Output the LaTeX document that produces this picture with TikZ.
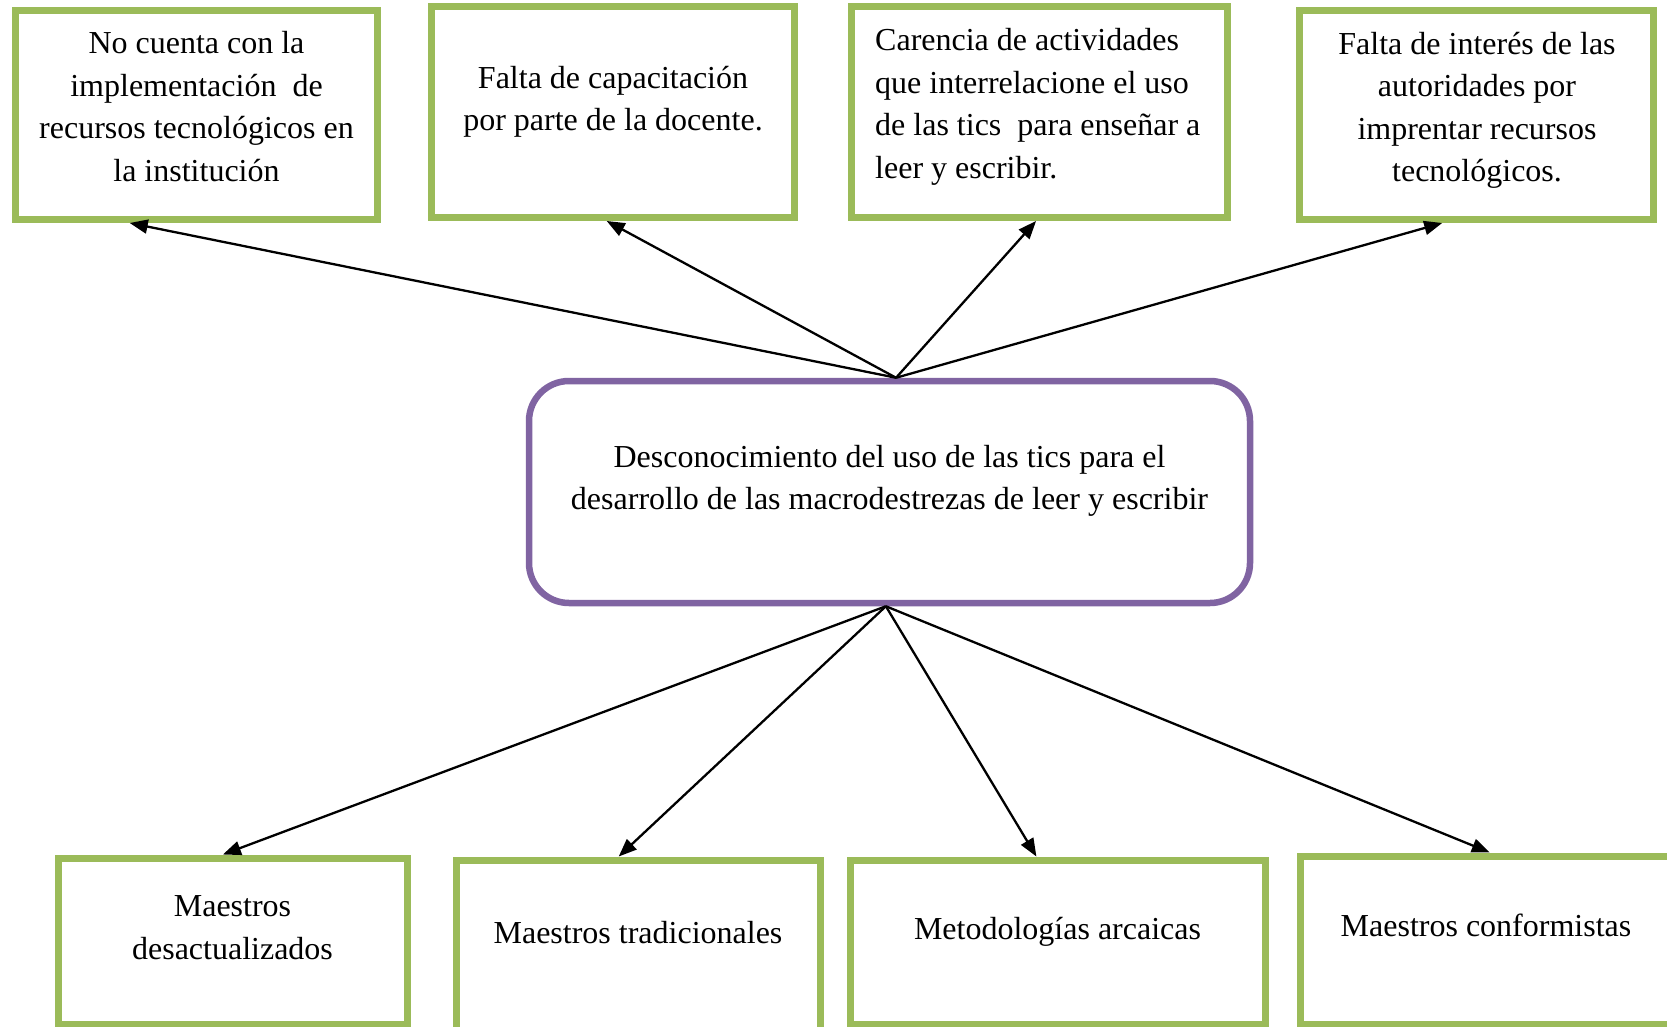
\documentclass[tikz,border=0pt]{standalone}
\usepackage{fontspec}
\setmainfont{Liberation Serif}
\usetikzlibrary{arrows.meta,calc}
\definecolor{boxgreen}{HTML}{9BBB59}
\definecolor{boxpurple}{HTML}{8064A2}
\begin{document}
\begin{tikzpicture}[x=1pt,y=-1pt,
  gbox/.style={draw=boxgreen,line width=7pt,rectangle,inner sep=0pt,fill=white},
  pbox/.style={draw=boxpurple,line width=6.5pt,rectangle,rounded corners=40pt,inner sep=0pt,fill=white},
  txt/.style={font=\fontsize{32}{42.5}\selectfont,align=center,inner sep=0pt},
  arr/.style={-{Triangle[length=18pt,width=14pt]},line width=2.3pt,black}]
\useasboundingbox (0,0) rectangle (1667,1027);
\clip (0,0) rectangle (1667,1027);
\fill[white] (0,0) rectangle (1667,1027);

% top boxes
\node[gbox,minimum width=362pt,minimum height=209pt] (t1) at (196.5,115) {};
\node[gbox,minimum width=363pt,minimum height=211pt] (t2) at (613,112) {};
\node[gbox,minimum width=376pt,minimum height=211pt] (t3) at (1039.5,112) {};
\node[gbox,minimum width=354pt,minimum height=209pt] (t4) at (1476.5,115) {};

% central box
\node[pbox,minimum width=721pt,minimum height=222pt] (c) at (889.5,492) {};

% bottom boxes
\node[gbox,minimum width=349pt,minimum height=166pt] (b1) at (232.5,941) {};
\node[gbox,minimum width=364pt,minimum height=200pt] (b2) at (638,960) {};
\node[gbox,minimum width=415pt,minimum height=164pt] (b3) at (1057.5,942) {};
\node[gbox,minimum width=372pt,minimum height=168pt] (b4) at (1486,940) {};

% texts
\node[txt] (x1) at (196.5,106.5) {No cuenta con la\\implementación~ de\\recursos tecnológicos en\\la institución};
\node[txt] (x2) at (613,102) {Falta de capacitación\\por parte de la docente.};
\node[txt,align=left,anchor=west] (x3) at (875,107) {Carencia de actividades\\que interrelacione el uso\\de las tics~ para enseñar a\\leer y escribir.};
\node[txt] (x4) at (1477,110.5) {Falta de interés de las\\autoridades por\\imprentar recursos\\tecnológicos.};
\node[txt] (xc) at (889.5,481) {Desconocimiento del uso de las tics para el\\desarrollo de las macrodestrezas de leer y escribir};
\node[txt] (xb1) at (232.5,927.5) {Maestros\\desactualizados};
\node[txt] (xb2) at (638,933) {Maestros tradicionales};
\node[txt] (xb3) at (1057.5,931.5) {Metodologías arcaicas};
\node[txt] (xb4) at (1486,925.5) {Maestros conformistas};

% arrows
\draw[arr] ($(c.north west)!0.509!(c.north east)$) -- ($(t1.south west)!0.319!(t1.south east)$);
\draw[arr] ($(c.north west)!0.509!(c.north east)$) -- ($(t2.south west)!0.483!(t2.south east)$);
\draw[arr] ($(c.north west)!0.509!(c.north east)$) -- ($(t3.south west)!0.491!(t3.south east)$);
\draw[arr] ($(c.north west)!0.509!(c.north east)$) -- ($(t4.south west)!0.405!(t4.south east)$);
\draw[arr] ($(c.south west)!0.495!(c.south east)$) -- ($(b1.north west)!0.473!(b1.north east)$);
\draw[arr] ($(c.south west)!0.495!(c.south east)$) -- ($(b2.north west)!0.448!(b2.north east)$);
\draw[arr] ($(c.south west)!0.495!(c.south east)$) -- ($(b3.north west)!0.45!(b3.north east)$);
\draw[arr] ($(c.south west)!0.495!(c.south east)$) -- ($(b4.north west)!0.51!(b4.north east)$);
\end{tikzpicture}
\end{document}
